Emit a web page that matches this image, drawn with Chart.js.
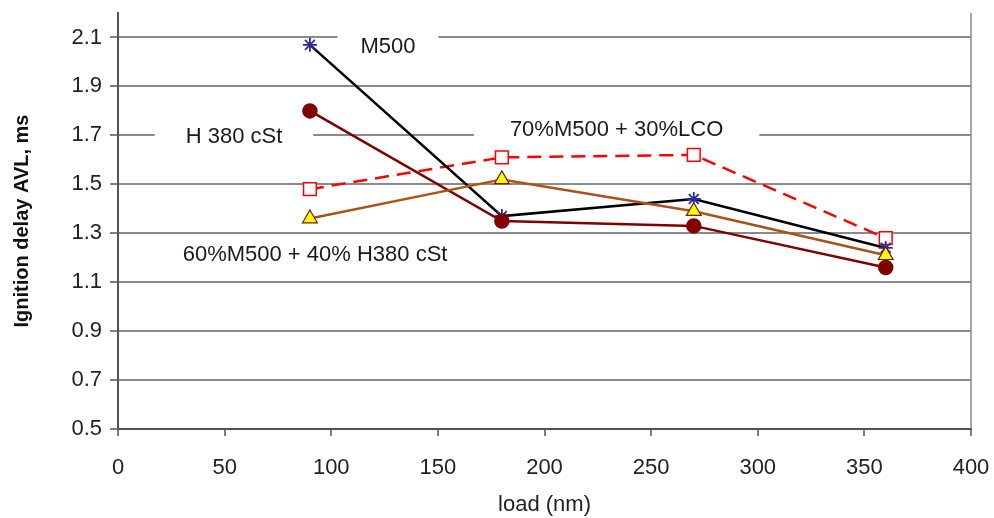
<!DOCTYPE html>
<html>
<head>
<meta charset="utf-8">
<title>Ignition delay vs load</title>
<script src="https://cdn.jsdelivr.net/npm/chart.js@4.4.0/dist/chart.umd.min.js"></script>
<style>
    html, body { margin: 0; padding: 0; background: #fff; }
    #delayChart { display: block; }
</style>
</head>
<body>
<canvas id="delayChart" width="994" height="518"></canvas>
<script>
// Loads (nm) and measured ignition delays (ms)
const loads = [90, 180, 270, 360];
const m500 = [2.07, 1.37, 1.44, 1.24];
const h380 = [1.80, 1.35, 1.33, 1.16];
const m500Lco = [1.48, 1.61, 1.62, 1.28];
const m500H380 = [1.36, 1.52, 1.39, 1.21];

// Axis ticks
const xTicks = [0, 50, 100, 150, 200, 250, 300, 350, 400];
const yTicks = [0.5, 0.7, 0.9, 1.1, 1.3, 1.5, 1.7, 1.9, 2.1];

// Series names written inside the plot
const seriesNames = ['M500', 'H 380 cSt', '70%M500 + 30%LCO', '60%M500 + 40% H380 cSt'];

const FONT = "'Liberation Sans', Arial, sans-serif";

function toPoints(values) {
    return loads.map((x, i) => ({ x: x, y: values[i] }));
}

// Series names sit on white boxes that cut the grid lines
const seriesLabels = {
    id: 'seriesLabels',
    beforeDatasetsDraw(chart, args, opts) {
        const ctx = chart.ctx;
        const xs = chart.scales.x;
        const ys = chart.scales.y;
        ctx.save();
        ctx.font = opts.size + 'px ' + FONT;
        ctx.textAlign = 'center';
        ctx.textBaseline = 'middle';
        opts.items.forEach(item => {
            const cx = xs.getPixelForValue(item.x);
            const cy = ys.getPixelForValue(item.y);
            const w = ctx.measureText(item.text).width + item.pad * 2;
            ctx.fillStyle = '#fff';
            ctx.fillRect(cx - w / 2, cy - 15, w, 30);
            ctx.fillStyle = '#1a1a1a';
            ctx.fillText(item.text, cx, cy);
        });
        ctx.restore();
    }
};

document.addEventListener('DOMContentLoaded', function() {
    const ctx = document.getElementById('delayChart').getContext('2d');
    const chart = new Chart(ctx, {
        type: 'line',
        data: {
            datasets: [{
                label: seriesNames[3],
                data: toPoints(m500H380),
                borderColor: '#a9531b',
                borderWidth: 2.5,
                pointStyle: 'triangle',
                pointRadius: 8.5,
                pointBackgroundColor: '#ffff00',
                pointBorderColor: '#7a1a00',
                pointBorderWidth: 1.2
            }, {
                label: seriesNames[1],
                data: toPoints(h380),
                borderColor: '#800000',
                borderWidth: 2.5,
                pointStyle: 'circle',
                pointRadius: 6.5,
                pointBackgroundColor: '#800000',
                pointBorderColor: '#800000'
            }, {
                label: seriesNames[0],
                data: toPoints(m500),
                borderColor: '#000',
                borderWidth: 2.5,
                pointStyle: 'star',
                pointRadius: 7,
                pointBorderColor: '#2b2b9a',
                pointBorderWidth: 1.8,
                pointBackgroundColor: '#2b2b9a'
            }, {
                label: seriesNames[2],
                data: toPoints(m500Lco),
                borderColor: '#ff0000',
                borderWidth: 2.5,
                borderDash: [14, 8],
                pointStyle: 'rect',
                pointRadius: 9,
                pointBackgroundColor: '#fff',
                pointBorderColor: '#ff0000',
                pointBorderWidth: 1.5
            }]
        },
        options: {
            responsive: false,
            animation: false,
            layout: {
                padding: { top: 13, right: 23, bottom: 0, left: 0 }
            },
            plugins: {
                legend: { display: false },
                tooltip: { enabled: false },
                seriesLabels: {
                    size: 22,
                    items: [
                        { text: seriesNames[0], x: 126.6, y: 2.063, pad: 23 },
                        { text: seriesNames[1], x: 54.4, y: 1.695, pad: 31 },
                        { text: seriesNames[2], x: 233.8, y: 1.724, pad: 36 },
                        { text: seriesNames[3], x: 92.4, y: 1.212, pad: 10 }
                    ]
                }
            },
            scales: {
                x: {
                    type: 'linear',
                    min: 0,
                    max: 400,
                    afterBuildTicks: axis => { axis.ticks = xTicks.map(v => ({ value: v })); },
                    afterFit: axis => {
                        axis.height = 89;
                        axis.paddingLeft = 0;
                        axis.paddingRight = 0;
                    },
                    grid: {
                        // only the right-hand frame line at 400 is drawn
                        color: c => (c.tick && c.tick.value === 400) ? '#a8a8a8' : 'rgba(0,0,0,0)',
                        lineWidth: 2,
                        drawTicks: true,
                        tickLength: 7,
                        tickColor: '#555',
                        tickWidth: 1.5
                    },
                    border: { display: true, color: '#555', width: 2 },
                    ticks: {
                        padding: 19,
                        color: '#222',
                        font: { family: FONT, size: 22 }
                    },
                    title: {
                        display: true,
                        text: 'load (nm)',
                        color: '#222',
                        font: { family: FONT, size: 22 },
                        padding: { top: 0, bottom: 0 }
                    }
                },
                y: {
                    min: 0.5,
                    max: 2.2,
                    afterBuildTicks: axis => { axis.ticks = yTicks.map(v => ({ value: v })); },
                    afterFit: axis => {
                        axis.width = 118;
                        axis.paddingTop = 0;
                        axis.paddingBottom = 0;
                    },
                    grid: {
                        color: '#8a8a8a',
                        lineWidth: 2,
                        drawTicks: true,
                        tickLength: 8,
                        tickColor: '#555',
                        tickWidth: 1.5
                    },
                    border: { display: true, color: '#555', width: 2 },
                    ticks: {
                        padding: 8,
                        color: '#222',
                        font: { family: FONT, size: 22 },
                        callback: v => Number(v).toFixed(1)
                    },
                    title: {
                        display: true,
                        text: 'Ignition delay AVL, ms',
                        color: '#111',
                        font: { family: FONT, size: 20, weight: 'bold' },
                        padding: { top: 10, bottom: 0 }
                    }
                }
            }
        },
        plugins: [seriesLabels]
    });
});
</script>
</body>
</html>
